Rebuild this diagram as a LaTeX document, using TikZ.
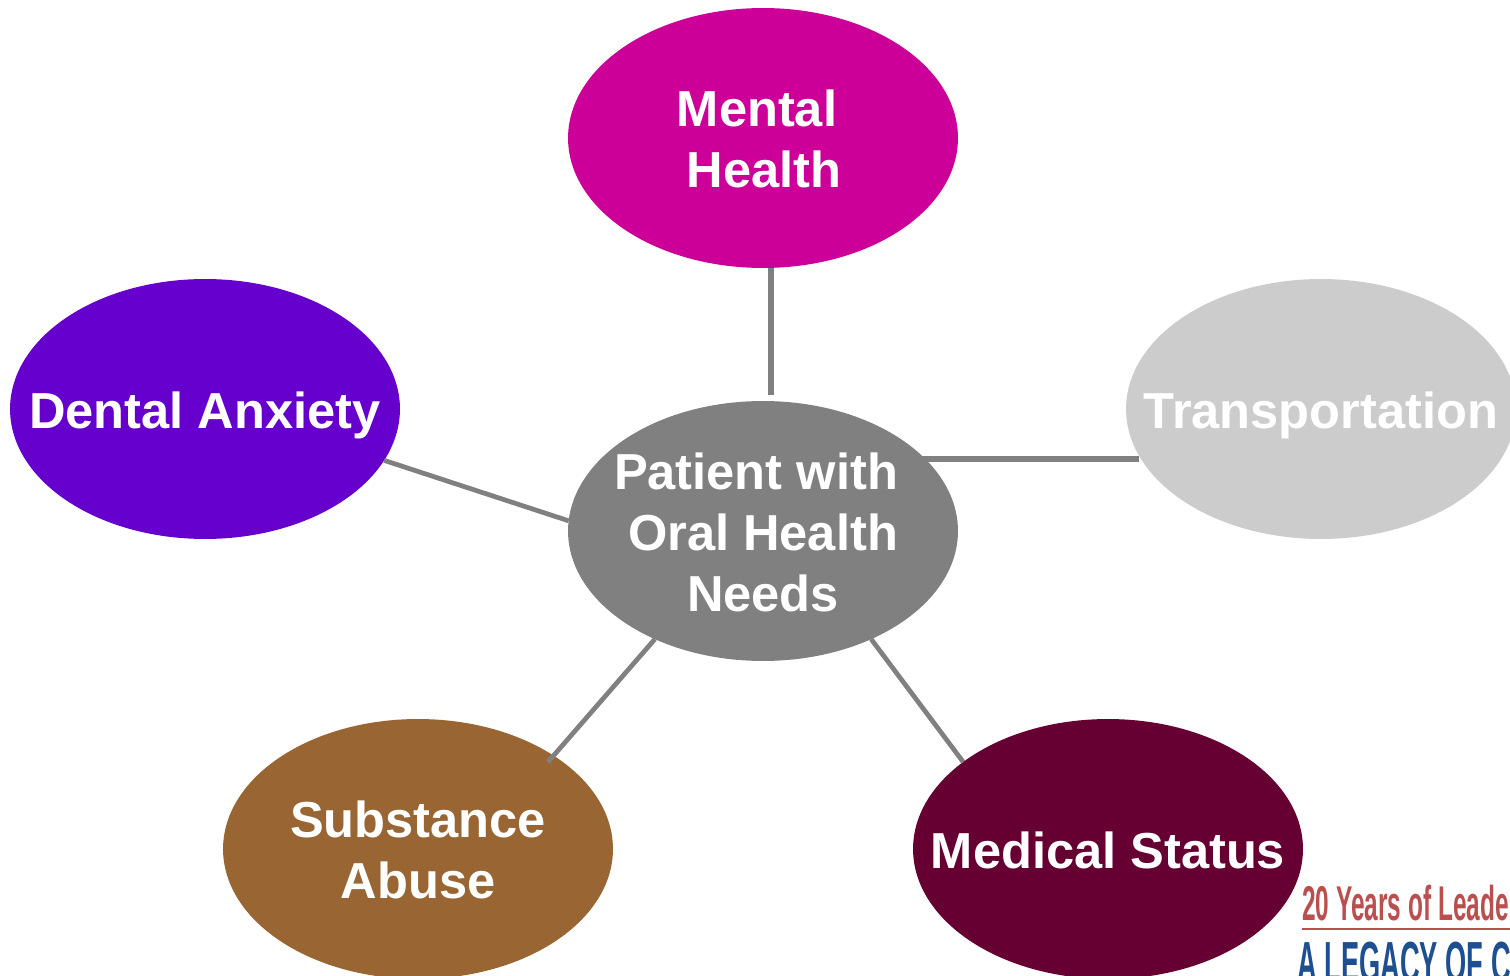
\documentclass[tikz,border=0pt]{standalone}
\usepackage{fontspec}
\setmainfont{Liberation Sans}
\usetikzlibrary{shapes.geometric}

\definecolor{HubGray}{HTML}{808080}
\definecolor{MentalPink}{HTML}{CC0099}
\definecolor{AnxietyPurple}{HTML}{6600CC}
\definecolor{TransportGray}{HTML}{CCCCCC}
\definecolor{AbuseBrown}{HTML}{996633}
\definecolor{StatusMaroon}{HTML}{660033}
\definecolor{LogoRed}{HTML}{B9504F}
\definecolor{LogoBlue}{HTML}{1D4F91}

\tikzset{
  bubble/.style={ellipse, minimum width=7.8cm, minimum height=5.2cm, inner sep=0, outer sep=0},
  bubbletext/.style={text=white, align=center, inner sep=0,
    font=\fontsize{28.8}{34.7}\selectfont\bfseries},
  link/.style={color=HubGray, line width=2.7pt},
  thicklink/.style={color=HubGray, line width=3.4pt},
}

\begin{document}
\begin{tikzpicture}[x=0.02cm, y=-0.02cm]

 \clip (0,0) rectangle (1510,976);

 %%%%%%%%%% Ellipses %%%%%%%%%%
 \node [bubble, fill=HubGray] (hub) at (763,531) {};
 \node [bubble, fill=MentalPink] (mental) at (763,138) {};
 \node [bubble, fill=AnxietyPurple] (anxiety) at (205,409) {};
 \node [bubble, fill=TransportGray] (transport) at (1321,409) {};
 \node [bubble, fill=AbuseBrown] (abuse) at (418,849) {};
 \node [bubble, fill=StatusMaroon] (status) at (1108,849) {};

 %%%%%%%%%% Labels %%%%%%%%%%
 \node [bubbletext] (hubtext) at (763,532) {Patient with~\mbox{}\\Oral Health\\Needs};
 \node [bubbletext] (mentaltext) at (764,139) {Mental~\mbox{}\\Health};
 \node [bubbletext] (anxietytext) at (205,415) {Dental Anxiety};
 \node [bubbletext] (transporttext) at (1321,415) {Transportation};
 \node [bubbletext] (abusetext) at (418,850) {Substance\\Abuse};
 \node [bubbletext] (statustext) at (1108,850) {Medical Status};

 % Spokes
 \coordinate (abusetip) at (548,762);
 \coordinate (mentalfoot) at (771,395);
 \coordinate (transportfoot) at (1139,459);
 \draw [thicklink] (mental.south -| mentalfoot) -- (mentalfoot) ;
 \draw [thicklink] (hub.25.5 |- transportfoot) -- (transportfoot) ;
 \draw [link] (anxiety.344.6) -- (hub.177.1) ;
 \draw [link] (hub.225.7) -- (abusetip) ;
 \draw [link] (hub.315) -- (status.149.3) ;

 % Logo corner
 \node [anchor=base west, inner sep=0, text=LogoRed, font=\fontsize{27.8}{30}\selectfont\bfseries] (logotop) at (1302,920)
   {\scalebox{0.5}[1]{20 Years of Leade}};
 \node [anchor=base west, inner sep=0, text=LogoBlue, font=\fontsize{33}{35}\selectfont\bfseries] (logobottom) at (1297,982)
   {\scalebox{0.47}[1]{A LEGACY OF C}};
 \coordinate (ruleend) at (1510,929);
 \draw [color=LogoRed, line width=1.2pt] (logotop.base west |- ruleend) -- (ruleend) ;

\end{tikzpicture}
\end{document}
